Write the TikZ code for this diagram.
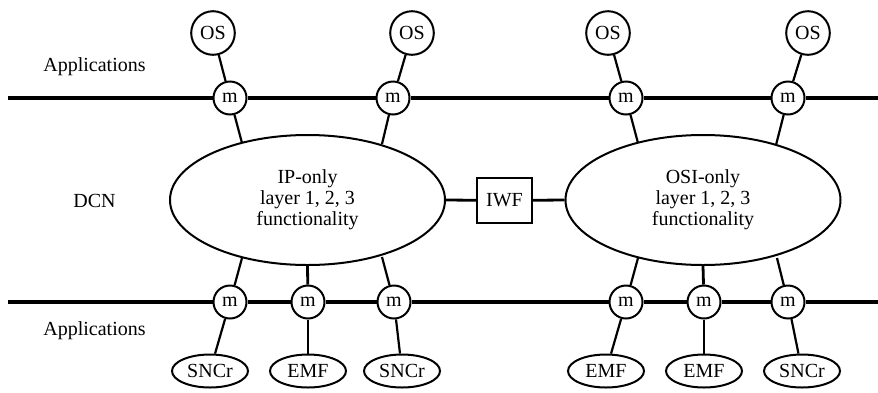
\documentclass[tikz,border=0pt]{standalone}
\usepackage{fontspec}
\setmainfont{Liberation Serif}
\usetikzlibrary{shapes.geometric}
\begin{document}
\begin{tikzpicture}[x=0.5pt,y=-0.5pt,
  every node/.style={font=\fontsize{10}{10.5}\selectfont},
  mnode/.style={circle,draw,line width=1pt,fill=white,minimum size=16.5pt,inner sep=0pt},
  osnode/.style={circle,draw,line width=1pt,fill=white,minimum size=21.8pt,inner sep=0pt},
  bignet/.style={ellipse,draw,line width=1pt,minimum width=137.5pt,minimum height=65pt,inner sep=0pt,align=center},
  appnode/.style={ellipse,draw,line width=1pt,minimum width=38pt,minimum height=16.5pt,inner sep=0pt},
  iwfnode/.style={rectangle,draw,line width=1pt,minimum width=27.5pt,minimum height=22.5pt,inner sep=0pt},
  bus/.style={line width=1.6pt},
  link/.style={line width=1.1pt},
  vlink/.style={line width=1.4pt},
  lbl/.style={anchor=west,inner sep=0pt}]
\useasboundingbox (0,0) rectangle (878,392);
% labels
\node[lbl] (app1) at (43,67) {Applications};
\node[lbl] (dcn) at (73,201) {DCN};
\node[lbl] (app2) at (43,331) {Applications};
% networks
\node[bignet] (L) at (307.5,200) {IP-only\\layer 1, 2, 3\\functionality};
\node[bignet] (R) at (703,200) {OSI-only\\layer 1, 2, 3\\functionality};
\node[iwfnode] (iwf) at (504.5,200.5) {IWF};
% top m and OS
\node[mnode] (m1) at (230,98) {m};
\node[mnode] (m2) at (393,98) {m};
\node[mnode] (m3) at (626,98) {m};
\node[mnode] (m4) at (788,98) {m};
\node[osnode] (os1) at (213,33) {OS};
\node[osnode] (os2) at (412,33) {OS};
\node[osnode] (os3) at (608,33) {OS};
\node[osnode] (os4) at (808,33) {OS};
% bottom m and applications
\node[mnode] (b1) at (230,302) {m};
\node[mnode] (b2) at (308,302) {m};
\node[mnode] (b3) at (394,302) {m};
\node[mnode] (b4) at (626,302) {m};
\node[mnode] (b5) at (704,302) {m};
\node[mnode] (b6) at (788,302) {m};
\node[appnode] (s1) at (210,371) {SNCr};
\node[appnode] (e1) at (308,371) {EMF};
\node[appnode] (s2) at (402,371) {SNCr};
\node[appnode] (e2) at (606,371) {EMF};
\node[appnode] (e3) at (704,371) {EMF};
\node[appnode] (s3) at (802,371) {SNCr};
% bus ends and ellipse attachment points
\coordinate (tl) at (8,98);
\coordinate (tr) at (880,98);
\coordinate (bl) at (8,302);
\coordinate (br) at (880,302);
\coordinate (pt1) at (242,143);
\coordinate (pt2) at (382,144);
\coordinate (pt3) at (638,143);
\coordinate (pt4) at (776,145);
\coordinate (pb1) at (242,258);
\coordinate (pb3) at (382,257);
\coordinate (pb4) at (638,258);
\coordinate (pb6) at (777,258);
% buses
\draw[bus] (tl) -- (m1) -- (m2) -- (m3) -- (m4) -- (tr);
\draw[bus] (bl) -- (b1) -- (b2) -- (b3) -- (b4) -- (b5) -- (b6) -- (br);
% top connectors
\draw[link] (os1) -- (m1);
\draw[link] (m1) -- (pt1);
\draw[link] (os2) -- (m2);
\draw[link] (m2) -- (pt2);
\draw[link] (os3) -- (m3);
\draw[link] (m3) -- (pt3);
\draw[link] (os4) -- (m4);
\draw[link] (m4) -- (pt4);
% bottom connectors
\draw[link] (pb1) -- (b1);
\draw[link] (b1) -- (s1);
\draw[vlink] (L.south) -- (b2);
\draw[vlink] (b2) -- (e1);
\draw[link] (pb3) -- (b3);
\draw[link] (b3) -- (s2);
\draw[link] (pb4) -- (b4);
\draw[link] (b4) -- (e2);
\draw[vlink] (R.south) -- (b5);
\draw[vlink] (b5) -- (e3);
\draw[link] (pb6) -- (b6);
\draw[link] (b6) -- (s3);
% IWF links
\draw[vlink] (L.east) -- (iwf);
\draw[vlink] (iwf) -- (R.west);
\end{tikzpicture}
\end{document}
